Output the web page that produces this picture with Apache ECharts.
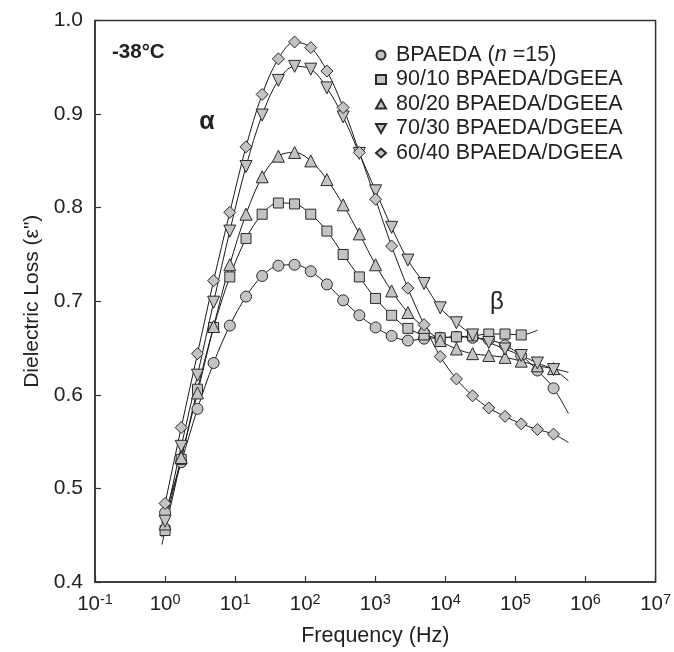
<!DOCTYPE html>
<html><head><meta charset="utf-8">
<script src="https://cdn.jsdelivr.net/npm/echarts@6/dist/echarts.min.js"></script>
<style>html,body{margin:0;padding:0;background:#fff}#c{width:674px;height:652px}</style>
</head><body><div id="c"></div>
<script>
const FONT = '"Liberation Sans", Arial, Helvetica, sans-serif';

// Frequencies (Hz) of the measured points
const freq = [1, 1.7, 2.9, 4.93, 8.39, 14.3, 24.3, 41.4, 70.5, 120, 204, 348, 592, 1010, 1710, 2920, 4970, 8450, 14400, 24500, 41700, 71000, 121000, 206000, 350000];

const seriesNames = ['BPAEDA (n =15)', '90/10 BPAEDA/DGEEA', '80/20 BPAEDA/DGEEA', '70/30 BPAEDA/DGEEA', '60/40 BPAEDA/DGEEA'];

// Dielectric loss values
const bpaeda    = [0.474, 0.528, 0.585, 0.634, 0.674, 0.705, 0.727, 0.738, 0.739, 0.732, 0.718, 0.701, 0.685, 0.672, 0.663, 0.658, 0.660, 0.661, 0.662, 0.661, 0.659, 0.653, 0.642, 0.626, 0.607];
const blend9010 = [0.455, 0.531, 0.606, 0.672, 0.726, 0.767, 0.793, 0.805, 0.804, 0.793, 0.775, 0.750, 0.726, 0.703, 0.685, 0.671, 0.664, 0.661, 0.662, 0.663, 0.665, 0.665, 0.664];
const blend8020 = [0.462, 0.533, 0.602, 0.673, 0.739, 0.793, 0.833, 0.855, 0.859, 0.850, 0.830, 0.803, 0.772, 0.739, 0.711, 0.688, 0.672, 0.658, 0.649, 0.644, 0.642, 0.640, 0.636, 0.631, 0.628];
const blend7030 = [0.465, 0.545, 0.621, 0.699, 0.775, 0.844, 0.899, 0.936, 0.951, 0.948, 0.928, 0.897, 0.858, 0.818, 0.779, 0.744, 0.719, 0.693, 0.677, 0.664, 0.656, 0.649, 0.642, 0.634, 0.627];
const blend6040 = [0.484, 0.565, 0.644, 0.722, 0.795, 0.865, 0.921, 0.959, 0.977, 0.971, 0.946, 0.907, 0.859, 0.809, 0.759, 0.714, 0.675, 0.641, 0.617, 0.599, 0.586, 0.577, 0.569, 0.563, 0.558];

// Fitted-curve end points
const fitStartFreq = [0.9, 0.9, 0.9, 0.9, 0.9];
const fitStartLoss = [0.463, 0.440, 0.448, 0.449, 0.468];
const fitEndFreq   = [571000, 206000, 571000, 571000, 571000];
const fitEndLoss   = [0.580, 0.669, 0.624, 0.615, 0.549];

const values = [bpaeda, blend9010, blend8020, blend7030, blend6040];
const symbols = ['circle', 'rect', 'triangle', 'triangle', 'diamond'];
const rotates = [0, 0, 0, 180, 0];
const sizes = [11, 10, 12, 12, 12];
const legendIcons = ['circle', 'rect', 'triangle', 'path://M0,0L10,0L5,9Z', 'diamond'];

const series = [];
values.forEach((vals, k) => {
  const pts = vals.map((v, i) => [freq[i], v]);
  series.push({
    name: 'fit' + k, type: 'line', smooth: 0.35, showSymbol: false, symbol: 'none',
    data: [[fitStartFreq[k], fitStartLoss[k]]].concat(pts, [[fitEndFreq[k], fitEndLoss[k]]]),
    lineStyle: { color: '#1a1a1a', width: 1 }, z: 2, silent: true, animation: false
  });
});
values.forEach((vals, k) => {
  series.push({
    name: seriesNames[k], type: 'scatter', symbol: symbols[k], symbolRotate: rotates[k], symbolSize: sizes[k],
    data: vals.map((v, i) => [freq[i], v]),
    itemStyle: { color: '#c3c3c3', borderColor: '#2a2a2a', borderWidth: 1, opacity: 1 },
    z: 3, animation: false
  });
});

const chart = echarts.init(document.getElementById('c'), null, { renderer: 'canvas' });
chart.setOption({
  animation: false,
  backgroundColor: '#fff',
  textStyle: { fontFamily: FONT },
  grid: { left: 95, top: 20.5, right: 16.5, bottom: 70, show: true, borderColor: '#333', borderWidth: 1.5, backgroundColor: 'transparent' },
  legend: {
    data: seriesNames.map((n, k) => ({ name: n, icon: legendIcons[k] })),
    orient: 'vertical', left: 370, top: 39, itemWidth: 10, itemHeight: 9, itemGap: 2.5,
    formatter: n => n === 'BPAEDA (n =15)' ? 'BPAEDA ({it|n} =15)' : n,
    textStyle: { fontSize: 21.5, color: '#222', fontFamily: FONT, padding: [0, 0, 0, 5],
      rich: { it: { fontStyle: 'italic', fontSize: 21.5, color: '#222', fontFamily: FONT } } },
    selectedMode: false
  },
  xAxis: {
    type: 'log', logBase: 10, min: 0.1, max: 1e7, splitNumber: 8,
    name: 'Frequency (Hz)', nameLocation: 'middle', nameGap: 43,
    nameTextStyle: { fontSize: 21.5, color: '#222', fontFamily: FONT },
    axisLine: { show: true, lineStyle: { color: '#333', width: 1.5 } },
    axisTick: { show: true, inside: true, length: 6, lineStyle: { color: '#333', width: 1.2 } },
    minorTick: { show: false }, splitLine: { show: false },
    axisLabel: {
      margin: 10, color: '#222', fontFamily: FONT,
      formatter: v => '{b|10}{s|' + Math.round(Math.log10(v)) + '}',
      rich: {
        b: { fontSize: 20.5, color: '#222', fontFamily: FONT, lineHeight: 24 },
        s: { fontSize: 14.5, color: '#222', fontFamily: FONT, verticalAlign: 'top', lineHeight: 16 }
      }
    }
  },
  yAxis: {
    type: 'value', min: 0.4, max: 1.0, interval: 0.1,
    name: 'Dielectric Loss (ε")', nameLocation: 'middle', nameGap: 50, nameRotate: 90,
    nameTextStyle: { fontSize: 21, color: '#222', fontFamily: FONT },
    axisLine: { show: true, lineStyle: { color: '#333', width: 1.5 } },
    axisTick: { show: true, inside: true, length: 6, lineStyle: { color: '#333', width: 1.2 } },
    splitLine: { show: false },
    axisLabel: { margin: 12, fontSize: 21, color: '#222', fontFamily: FONT, formatter: v => v.toFixed(1) }
  },
  graphic: [
    { type: 'text', left: 112, top: 42, style: { text: '-38°C', fontSize: 20.5, fontWeight: 'bold', fill: '#222', fontFamily: FONT } },
    { type: 'text', x: 207, y: 122, style: { text: 'α', fontSize: 25, fontWeight: 'bold', fill: '#222', fontFamily: FONT, align: 'center', verticalAlign: 'middle' } },
    { type: 'text', x: 497, y: 302, style: { text: 'β', fontSize: 24, fill: '#222', fontFamily: FONT, align: 'center', verticalAlign: 'middle' } }
  ],
  series: series
});
</script>
</body></html>
